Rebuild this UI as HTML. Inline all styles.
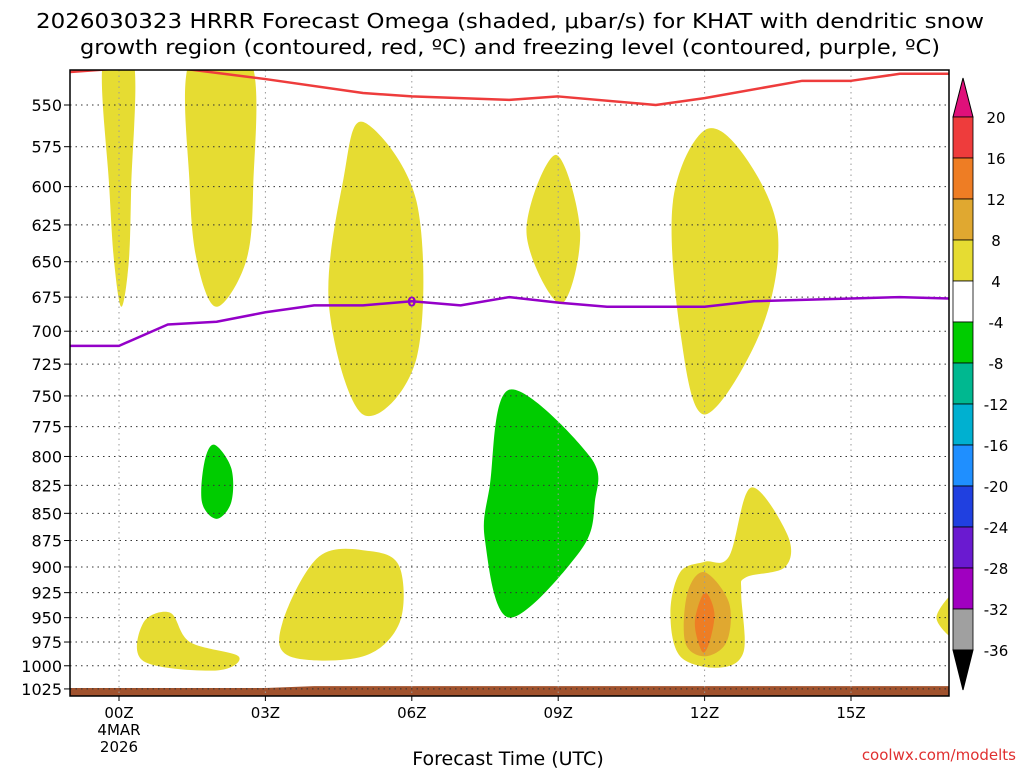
<!DOCTYPE html>
<html><head><meta charset="utf-8"><style>
body{margin:0;background:#fff;width:1024px;height:768px;overflow:hidden}
svg{font-family:"DejaVu Sans","Liberation Sans",sans-serif}
</style></head><body>
<svg id="c" width="1024" height="768" xmlns="http://www.w3.org/2000/svg">
<text x="510" y="28" font-size="20" text-anchor="middle" textLength="948" lengthAdjust="spacingAndGlyphs">2026030323 HRRR Forecast Omega (shaded, μbar/s) for KHAT with dendritic snow</text>
<text x="510" y="54" font-size="20" text-anchor="middle" textLength="860" lengthAdjust="spacingAndGlyphs">growth region (contoured, red, ºC) and freezing level (contoured, purple, ºC)</text>
<g id="plot"></g>
<text x="508" y="765" font-size="19" text-anchor="middle">Forecast Time (UTC)</text>
<text x="1016" y="760" font-size="15" fill="#e03030" text-anchor="end">coolwx.com/modelts</text>
</svg>
<script>
const pressureTicks=[550,575,600,625,650,675,700,725,750,775,800,825,850,875,900,925,950,975,1000,1025];
const hourTicks=[0,3,6,9,12,15];
const hourLabels=["00Z","03Z","06Z","09Z","12Z","15Z"];
const cbLevels=[20,16,12,8,4,-4,-8,-12,-16,-20,-24,-28,-32,-36];
const cbColors=["#ee3c3c","#ee7d24","#e0a830","#e6dc32","#ffffff","#00cc00","#00b890","#00b0d0","#1f8fff","#2040e0","#6a1ad0","#a000c0","#a0a0a0"];
const yellowAreas=[
[[-0.33,525],[0.3,525],[0.25,600],[0.2,650],[0.05,682],[-0.1,650],[-0.2,600]],
[[1.45,525],[2.7,525],[2.75,600],[2.6,650],[2.0,682],[1.6,650],[1.45,600]],
[[5,560],[6.1,610],[6.1,720],[5,765],[4.3,680],[4.6,595]],
[[8.95,580],[9.45,630],[9.05,680],[8.35,630]],
[[12,565],[12.8,580],[13.5,630],[13.15,700],[12,765],[11.5,700],[11.35,610]],
[[0.5,955],[1.05,945],[1.45,975],[2.45,990],[2,1005],[0.5,995]],
[[4.1,890],[5.15,885],[5.75,900],[5.75,955],[5,990],[3.5,990],[3.35,955]],
[[12,895],[12.5,890],[12.95,827],[13.7,870],[13.65,900],[12.85,910],[12.75,925],[12.8,985],[12.3,1002],[11.5,990],[11.3,945],[11.5,905]],
[[17.3,920],[16.75,950],[17.3,975]]];
const greenAreas=[
[[1.95,790],[2.3,810],[2.3,840],[2,855],[1.7,840],[1.75,805]],
[[8,745],[9.65,800],[9.75,840],[9.45,885],[8,950],[7.5,875],[7.6,825]]];
const orangeAreas=[[[12,905],[12.5,935],[12.45,975],[12,990],[11.6,975],[11.65,925]]];
const darkOrangeAreas=[[[12,925],[12.2,945],[12.1,975],[11.95,985],[11.8,955]]];
const redHours=[-1,0,1,3,5,6,8,9,11,12,14,15,16,17];
const redP=[531,529,528,535,543,545,547,545,550,546,536,536,532,532];
const purpleHours=[-1,0,1,2,3,4,5,6,7,8,9,10,12,13,15,16,17];
const purpleP=[711,711,695,693,686,681,681,678,681,675,679,682,682,678,676,675,676];
const groundHours=[-1,3,4,17];
const groundP=[1024,1024,1022,1022];

const L=70,R=949,T=70,B=696;
const X=h=>119+(h)*48.8;
const Y=p=>105+938*Math.log(p/550);
const NS="http://www.w3.org/2000/svg";
const g=document.getElementById('plot');
function mk(t,a,parent){const e=document.createElementNS(NS,t);for(const k in a)e.setAttribute(k,a[k]);(parent||g).appendChild(e);return e;}
const defs=mk('defs',{});const cp=mk('clipPath',{id:'cl'},defs);mk('rect',{x:L,y:T,width:R-L,height:B-T},cp);
const pg=mk('g',{'clip-path':'url(#cl)'});
function smoothClosed(pts){
  const P=pts.map(q=>[X(q[0]),Y(q[1])]);const n=P.length;
  let d='M'+P[0][0]+','+P[0][1];
  for(let i=0;i<n;i++){const p0=P[(i-1+n)%n],p1=P[i],p2=P[(i+1)%n],p3=P[(i+2)%n];
    const c1=[p1[0]+(p2[0]-p0[0])/6,p1[1]+(p2[1]-p0[1])/6],c2=[p2[0]-(p3[0]-p1[0])/6,p2[1]-(p3[1]-p1[1])/6];
    d+=' C'+c1[0]+','+c1[1]+' '+c2[0]+','+c2[1]+' '+p2[0]+','+p2[1];}
  return d+'Z';}
function poly(pts,fill,name){const e=mk('path',{d:smoothClosed(pts),fill:fill},pg);

}
yellowAreas.forEach(a=>poly(a,'#e6dc32','omega-4-8-area'));
greenAreas.forEach(a=>poly(a,'#00cc00','omega-neg4-neg8-area'));
orangeAreas.forEach(a=>poly(a,'#e0a830','omega-8-12-area'));
darkOrangeAreas.forEach(a=>poly(a,'#ee7d24','omega-12-16-area'));
let gp=groundHours.map((h,i)=>X(h)+','+Y(groundP[i])).join(' ')+' '+R+','+B+' '+L+','+B;
const gr=mk('polygon',{points:gp,fill:'#a0522d'},pg);


pressureTicks.forEach(p=>{mk('line',{x1:L,x2:R,y1:Y(p),y2:Y(p),stroke:'#333','stroke-dasharray':'1.5,4','stroke-width':1},pg);});
hourTicks.forEach(h=>{mk('line',{x1:X(h),x2:X(h),y1:T,y2:B,stroke:'#999','stroke-dasharray':'1.5,4','stroke-width':1},pg);});
function line(hs,ps,col,name){const e=mk('polyline',{points:hs.map((h,i)=>X(h)+','+Y(ps[i])).join(' '),fill:'none',stroke:col,'stroke-width':2.5,'stroke-linejoin':'round'},pg);

}
line(redHours,redP,'#ee3c3c','dgz-contour-line');
line(purpleHours,purpleP,'#9400c8','freezing-level-line');
const zl=mk('text',{x:X(6),y:Y(678)+5,'font-size':13,'font-weight':'bold',fill:'#9400c8','text-anchor':'middle'},pg);zl.textContent='0';
mk('rect',{x:L,y:T,width:R-L,height:B-T,fill:'none',stroke:'#000','stroke-width':1.5});
pressureTicks.forEach(p=>{const t=mk('text',{x:62,y:Y(p)+6,'font-size':16,'text-anchor':'end'});t.textContent=p;


mk('line',{x1:L-6,x2:L,y1:Y(p),y2:Y(p),stroke:'#000'});});
hourTicks.forEach((h,i)=>{const t=mk('text',{x:X(h),y:718,'font-size':15,'text-anchor':'middle'});t.textContent=hourLabels[i];


mk('line',{x1:X(h),x2:X(h),y1:B,y2:B+5,stroke:'#000'});});
[['4MAR',735],['2026',752]].forEach(s=>{const t=mk('text',{x:X(0),y:s[1],'font-size':15,'text-anchor':'middle'});t.textContent=s[0];});
const cbx=953,cbw=20,cbTop=117,step=41;
const cbTopArrow=mk('polygon',{points:`${cbx},${cbTop} ${cbx+cbw},${cbTop} ${cbx+cbw/2},78`,fill:'#e0107a',stroke:'#000'});


cbColors.forEach((c,i)=>{const r=mk('rect',{x:cbx,y:cbTop+i*step,width:cbw,height:step,fill:c,stroke:'#000','stroke-width':0.8});

});
const by=cbTop+cbColors.length*step;
const cbBotArrow=mk('polygon',{points:`${cbx},${by} ${cbx+cbw},${by} ${cbx+cbw/2},690`,fill:'#000',stroke:'#000'});


cbLevels.forEach((v,i)=>{const t=mk('text',{x:996,y:cbTop+i*step+6,'font-size':15,'text-anchor':'middle'});t.textContent=v;

});
</script>
</body></html>
